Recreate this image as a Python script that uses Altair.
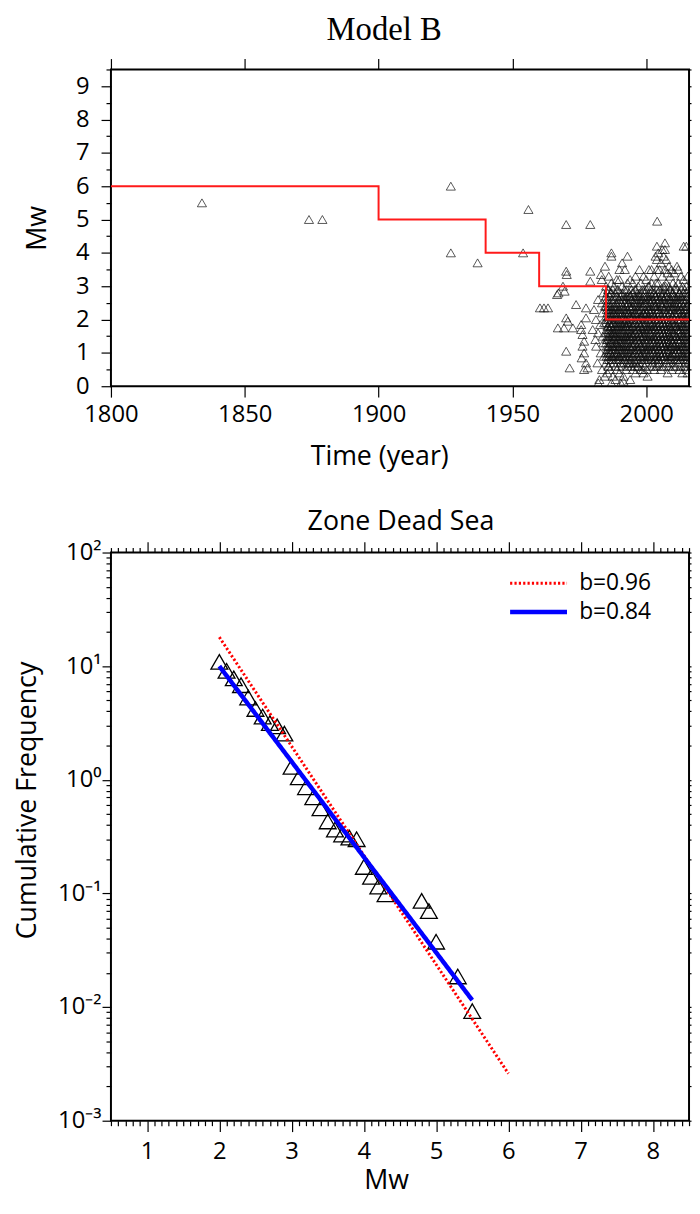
import altair as alt
import pandas as pd

# ---------------- Top panel: Model B (time vs magnitude) ----------------
hist_year = [1834, 1874, 1879, 1927, 1927, 1937, 1954, 1956, 1960.3, 1961.8, 1963.3, 1970.1, 1979.1, 2004.1]
hist_mw = [5.5, 5.0, 5.0, 6.0, 4.0, 3.7, 4.0, 5.3, 2.35, 2.35, 2.35, 4.85, 4.85, 4.95]

early_year = [1966.7, 1967.2, 1969.5, 1968.9, 1970.1, 1970.3, 1979.1, 1979.1, 1983.1, 1983.4, 1984.6,
              1973.8, 1977.5, 1970.1, 1970.7, 1967.0, 1969.3, 1972.6, 1977.5, 1975.7, 1981.2, 1975.7,
              1976.2, 1976.8, 1976.2, 1976.8, 1975.9, 1977.5, 1976.8, 1970.1, 1971.4, 1978.1, 1981.8,
              1982.5, 1981.0, 1981.3, 1983.0, 1980.0, 1982.0, 1983.5, 1983.6, 1984.0, 1982.0, 1980.5,
              1984.0, 1984.2, 1983.5, 1984.5, 1984.3, 1984.6, 1982.8, 1983.8, 1982.1, 1987.0, 1991.5]
early_mw = [2.75, 2.8, 2.85, 3.0, 3.45, 3.35, 3.45, 3.15, 3.35, 3.2, 3.6,
            2.45, 2.35, 2.05, 1.95, 1.75, 1.75, 1.75, 2.05, 1.85, 2.0, 1.7,
            1.55, 1.35, 1.2, 1.0, 0.85, 0.7, 0.5, 1.05, 0.55, 0.55, 0.7,
            0.2, 1.4, 1.2, 1.0, 1.7, 1.6, 2.5, 2.2, 2.8, 2.6, 2.3,
            1.3, 0.9, 0.5, 0.3, 1.9, 2.4, 1.85, 1.5, 0.1, 0.1, 0.15]

cloud_rows = {
    1985.0: "3.0 2.7 2.4 2.1 1.9 1.6 1.3 1.0 0.7",
    1985.5: "2.8 2.5 2.2 1.8 1.5 1.4 1.1 0.8 0.4",
    1986.0: "3.3 2.9 2.6 2.3 2.0 1.7 1.5 1.2 0.9 0.6",
    1986.5: "2.7 2.4 2.1 1.9 1.6 1.3 1.0 0.5",
    1987.0: "4.0 3.9 3.1 2.8 2.2 1.8 1.4 1.1 0.8",
    1987.5: "2.9 2.5 2.3 2.0 1.7 1.5 1.2 0.9 0.3",
    1988.0: "3.0 2.6 2.2 1.9 1.6 1.4 1.0 0.7",
    1988.5: "2.8 2.4 2.1 1.8 1.5 1.3 1.1 0.6 0.2",
    1989.0: "3.2 2.7 2.3 2.0 1.7 1.2 0.9 0.5",
    1989.5: "2.9 2.5 2.2 1.9 1.6 1.4 1.1 0.8",
    1990.0: "3.5 3.2 2.6 2.3 2.0 1.8 1.5 1.2 0.9 0.4",
    1990.5: "2.8 2.4 2.1 1.7 1.4 1.0 0.7 0.1",
    1991.0: "3.7 3.0 2.6 2.2 1.9 1.6 1.3 1.1 0.6",
    1991.5: "2.7 2.3 2.0 1.8 1.5 1.2 0.9 0.3",
    1992.0: "3.5 2.9 2.5 2.2 1.9 1.7 1.4 1.0 0.8",
    1992.5: "2.6 2.4 2.0 1.8 1.5 1.3 1.1 0.5",
    1993.0: "3.9 3.1 2.7 2.3 2.1 1.8 1.5 1.2 0.9 0.6",
    1993.5: "2.8 2.5 2.2 1.9 1.6 1.4 1.0 0.7",
    1994.0: "3.2 2.7 2.4 2.1 1.7 1.5 1.2 0.8 0.2",
    1994.5: "2.9 2.6 2.2 2.0 1.6 1.3 1.1 0.6",
    1995.0: "3.1 2.8 2.4 2.1 1.8 1.5 1.2 0.9 0.5",
    1995.5: "2.7 2.3 2.0 1.7 1.4 1.1 0.8",
    1996.0: "3.3 2.9 2.5 2.2 1.9 1.6 1.3 1.0 0.7 0.4",
    1996.5: "2.6 2.3 2.1 1.8 1.5 1.2 0.9",
    1997.0: "3.0 2.7 2.4 2.0 1.7 1.4 1.1 0.8 0.6",
    1997.5: "3.5 2.8 2.5 2.2 1.9 1.6 1.3 1.0",
    1998.0: "3.1 2.6 2.3 2.0 1.8 1.5 1.2 0.9 0.5",
    1998.5: "2.9 2.4 2.1 1.9 1.6 1.3 1.0 0.7",
    1999.0: "3.3 2.7 2.4 2.2 1.8 1.5 1.1 0.8 0.4",
    1999.5: "2.8 2.5 2.0 1.7 1.4 1.2 0.9 0.6",
    2000.0: "3.2 2.9 2.6 2.2 1.9 1.6 1.3 1.0 0.7",
    2000.5: "2.7 2.4 2.1 1.8 1.5 1.2 0.9 0.3",
    2001.0: "3.5 3.0 2.6 2.3 2.0 1.7 1.4 1.1 0.8",
    2001.5: "2.8 2.5 2.2 1.9 1.6 1.3 1.0 0.6",
    2002.0: "3.5 3.1 2.7 2.4 2.1 1.8 1.5 1.2 0.9",
    2002.5: "2.9 2.6 2.2 1.9 1.7 1.4 1.1 0.7",
    2003.0: "3.3 2.8 2.5 2.1 1.8 1.5 1.2 0.9 0.5",
    2003.5: "3.9 2.7 2.4 2.0 1.7 1.4 1.1 0.8",
    2004.0: "4.2 3.8 3.5 2.9 2.5 2.2 1.9 1.6 1.3 1.0 0.6",
    2004.5: "4.0 3.1 2.7 2.3 2.0 1.7 1.4 1.1 0.8",
    2005.0: "3.5 2.9 2.6 2.2 1.9 1.6 1.3 1.0 0.7",
    2005.5: "3.7 2.8 2.5 2.1 1.8 1.5 1.2 0.9 0.5",
    2006.0: "4.1 3.3 2.7 2.4 2.0 1.7 1.4 1.1 0.8",
    2006.5: "3.9 3.0 2.6 2.3 1.9 1.6 1.3 1.0 0.6",
    2007.0: "4.3 4.1 3.5 2.9 2.5 2.2 1.8 1.5 1.2 0.9",
    2007.5: "3.8 3.1 2.7 2.4 2.0 1.7 1.4 1.1 0.7",
    2008.0: "3.4 2.8 2.5 2.1 1.8 1.5 1.2 0.9 0.4",
    2008.5: "3.6 3.0 2.6 2.3 1.9 1.6 1.3 1.0 0.6",
    2009.0: "3.3 2.9 2.4 2.2 1.8 1.5 1.1 0.8",
    2009.5: "3.5 2.7 2.5 2.0 1.7 1.4 1.2 0.9 0.5",
    2010.0: "3.1 2.8 2.3 2.1 1.8 1.5 1.3 1.0 0.7",
    2010.5: "3.4 2.6 2.4 2.0 1.6 1.4 1.1 0.8",
    2011.0: "3.0 2.7 2.3 1.9 1.7 1.3 1.0 0.6",
    2011.5: "3.6 2.9 2.5 2.2 1.8 1.5 1.2 0.9",
    2012.0: "3.5 3.1 2.6 2.3 2.0 1.7 1.4 1.1 0.7",
    2012.5: "2.8 2.4 2.1 1.8 1.5 1.2 0.9 0.5",
    2013.0: "3.3 2.7 2.3 2.0 1.7 1.4 1.1 0.8",
    2013.5: "3.0 2.6 2.2 1.9 1.6 1.3 1.0 0.4",
    2014.0: "4.2 3.2 2.8 2.4 2.1 1.8 1.5 1.2 0.9 0.6",
    2014.5: "2.9 2.5 2.2 1.9 1.6 1.3 1.0 0.7",
    2015.0: "4.2 3.0 2.6 2.3 2.0 1.7 1.4 1.1 0.8 0.5",
    2015.5: "3.3 2.7 2.4 2.1 1.8 1.5 1.2 0.9 0.4",
}

cloud_rows_b = {
    1985.25: "2.6 2.3 2.0 1.7 1.4 1.2 0.9",
    1985.75: "2.9 2.4 2.1 1.8 1.6 1.2 1.0 0.6",
    1986.25: "2.5 2.2 1.9 1.7 1.4 1.1 0.8",
    1986.75: "2.8 2.3 2.0 1.8 1.5 1.3 1.0 0.7",
    1987.25: "2.6 2.1 1.9 1.6 1.3 1.2 0.9",
    1987.75: "2.4 2.2 1.9 1.6 1.4 1.1 0.8",
    1988.25: "2.7 2.3 2.0 1.7 1.5 1.2 0.9",
    1988.75: "2.5 2.2 1.9 1.6 1.3 1.0 0.8",
    1989.25: "2.9 2.4 2.1 1.8 1.5 1.3 1.0",
    1989.75: "2.6 2.3 2.0 1.7 1.4 1.2 0.9 0.6",
    1990.25: "2.7 2.2 1.9 1.6 1.3 1.1 0.8",
    1990.75: "2.5 2.3 2.0 1.8 1.5 1.2 0.9",
    1991.25: "2.8 2.4 2.1 1.7 1.4 1.0 0.7",
    1991.75: "2.6 2.1 1.9 1.6 1.3 1.1 0.8",
    1992.25: "2.7 2.3 2.0 1.8 1.5 1.2 0.9",
    1992.75: "2.9 2.5 2.2 1.9 1.6 1.4 1.0 0.7",
    1993.25: "2.5 2.2 1.9 1.7 1.3 1.1 0.8",
    1993.75: "2.7 2.4 2.1 1.8 1.5 1.2 0.9",
    1994.25: "2.6 2.3 1.9 1.6 1.4 1.0 0.7",
    1994.75: "2.8 2.4 2.1 1.8 1.5 1.2 0.9",
    1995.25: "2.5 2.2 1.9 1.6 1.3 1.0 0.7",
    1995.75: "2.9 2.6 2.2 1.9 1.6 1.3 1.0 0.6",
    1996.25: "2.7 2.4 2.0 1.7 1.4 1.1 0.8",
    1996.75: "2.8 2.5 2.2 2.0 1.7 1.4 1.1 0.6",
    1997.25: "2.6 2.3 1.9 1.6 1.3 1.0 0.7",
    1997.75: "2.7 2.4 2.1 1.8 1.5 1.2 0.9",
    1998.25: "2.8 2.5 2.1 1.7 1.4 1.1 0.8",
    1998.75: "2.6 2.2 2.0 1.7 1.5 1.2 0.9 0.5",
    1999.25: "2.9 2.5 2.2 1.9 1.6 1.3 1.0",
    1999.75: "2.7 2.3 2.1 1.8 1.5 1.1 0.8",
    2000.25: "2.5 2.2 2.0 1.7 1.4 1.1 0.8 0.5",
    2000.75: "3.0 2.6 2.3 2.0 1.7 1.4 1.1",
    2001.25: "2.7 2.4 2.1 1.8 1.5 1.2 0.9",
    2001.75: "2.9 2.6 2.3 2.0 1.7 1.4 1.1 0.8",
    2002.25: "2.6 2.3 2.0 1.7 1.4 1.1 0.8",
    2002.75: "2.8 2.4 2.1 1.8 1.5 1.3 1.0 0.6",
    2003.25: "2.7 2.4 2.0 1.7 1.4 1.1 0.8",
    2003.75: "3.1 2.6 2.3 2.0 1.8 1.5 1.2 0.9",
    2004.25: "2.8 2.4 2.1 1.8 1.5 1.2 0.9 0.7",
    2004.75: "2.6 2.3 2.0 1.7 1.4 1.1 0.8",
    2005.25: "2.9 2.5 2.2 1.9 1.6 1.3 1.0",
    2005.75: "2.7 2.4 2.0 1.7 1.4 1.2 0.9 0.6",
    2006.25: "2.8 2.5 2.2 1.9 1.6 1.3 1.0",
    2006.75: "2.6 2.3 2.1 1.8 1.5 1.2 0.9",
    2007.25: "3.0 2.7 2.3 2.0 1.7 1.4 1.1 0.8",
    2007.75: "2.8 2.5 2.2 1.9 1.6 1.3 1.0",
    2008.25: "2.7 2.3 2.0 1.7 1.4 1.1 0.8",
    2008.75: "2.9 2.5 2.2 1.8 1.5 1.2 0.9 0.7",
    2009.25: "2.6 2.3 2.0 1.7 1.4 1.2 0.9",
    2009.75: "2.8 2.4 2.1 1.9 1.6 1.3 1.0",
    2010.25: "2.7 2.5 2.2 1.9 1.6 1.2 0.9 0.6",
    2010.75: "2.9 2.5 2.2 1.8 1.5 1.2 1.0",
    2011.25: "2.6 2.4 2.1 1.8 1.5 1.1 0.8",
    2011.75: "2.7 2.3 2.0 1.7 1.4 1.1 0.8",
    2012.25: "2.8 2.5 2.2 1.9 1.6 1.3 1.0",
    2012.75: "2.6 2.3 2.0 1.7 1.4 1.1 0.8 0.6",
    2013.25: "2.9 2.5 2.1 1.8 1.5 1.2 0.9",
    2013.75: "2.7 2.4 2.1 1.8 1.5 1.2 0.9",
    2014.25: "2.6 2.3 2.0 1.7 1.4 1.1 0.8",
    2014.75: "2.8 2.4 2.1 1.8 1.5 1.2 0.9 0.6",
    2015.25: "2.7 2.4 2.1 1.9 1.6 1.3 1.0",
    2015.75: "2.9 2.5 2.2 1.9 1.6 1.3 1.0 0.7",
}

step_year = [1800, 1900, 1940, 1960, 1985, 2016]
step_mw = [6, 5, 4, 3, 2, 2]

year_ticks = [1800, 1850, 1900, 1950, 2000]
mw_ticks = [0, 0.5, 1, 1.5, 2, 2.5, 3, 3.5, 4, 4.5, 5, 5.5, 6, 6.5, 7, 7.5, 8, 8.5, 9, 9.5]

# ---------------- Bottom panel: Zone Dead Sea (Gutenberg-Richter) ----------------
cf_mw = [2.0, 2.1, 2.2, 2.3, 2.4, 2.5, 2.6, 2.7, 2.8, 2.9, 3.0, 3.1, 3.2, 3.3, 3.4,
         3.5, 3.6, 3.7, 3.8, 3.9, 4.0, 4.1, 4.2, 4.3, 4.8, 4.9, 5.0, 5.3, 5.5]
cf_val = [10.9, 9.1, 7.8, 6.8, 5.3, 4.2, 3.6, 3.15, 2.95, 2.55, 1.30, 1.05, 0.86, 0.70, 0.56,
          0.43, 0.365, 0.33, 0.31, 0.30, 0.171, 0.140, 0.115, 0.098, 0.086, 0.070, 0.0376, 0.0186, 0.0092]

fit_labels = ["b=0.96", "b=0.84"]
fit_red_mw = [2.0, 6.0]
fit_red_cf = [18.0, 0.0026]
fit_blue_mw = [2.0, 5.5]
fit_blue_cf = [10.0, 0.0115]

mag_ticks_major = [1, 2, 3, 4, 5, 6, 7, 8]
cf_tick_labels = ["10⁻³", "10⁻²", "10⁻¹", "10⁰", "10¹", "10²"]
cf_decades = [-3, -2, -1, 0, 1, 2]

# ---------------- tables ----------------
pts_year = list(hist_year) + list(early_year)
pts_mw = list(hist_mw) + list(early_mw)
for rows in (cloud_rows, cloud_rows_b):
    for yr, s in rows.items():
        for v in s.split():
            pts_year.append(yr)
            pts_mw.append(float(v))
df_pts = pd.DataFrame({"year": pts_year, "mw": pts_mw})
df_step = pd.DataFrame({"year": step_year, "mw": step_mw})

df_cf = pd.DataFrame({"mw": cf_mw, "cf": cf_val})
df_fit = pd.DataFrame({
    "fit": [fit_labels[0]] * 2 + [fit_labels[1]] * 2,
    "mw": fit_red_mw + fit_blue_mw,
    "cf": fit_red_cf + fit_blue_cf,
})

mag_minor = [round(0.5 + 0.1 * i, 1) for i in range(81)]
cf_ticks = []
for d in cf_decades[:-1]:
    for k in range(1, 10):
        cf_ticks.append(float(f"{k}e{d}"))
cf_ticks.append(float(f"1e{cf_decades[-1]}"))

cf_label_expr = ""
for d, lab in zip(cf_decades, cf_tick_labels):
    cf_label_expr += f"abs(log(datum.value)/LN10 - ({d})) < 0.001 ? '{lab}' : "
cf_label_expr += "''"

FONT = "Open Sans"
W = 584
H_TOP = 320
H_BOT = 574

int_test = "abs(datum.value - round(datum.value)) < 0.001"
log_test = "abs(log(datum.value)/LN10 - round(log(datum.value)/LN10)) < 0.001"

# ---------------- top chart ----------------
x_top = alt.Scale(domain=[1800, 2016], nice=False, zero=False)
y_top = alt.Scale(domain=[0, 9.5], nice=False, zero=False)

pts = alt.Chart(df_pts).mark_point(
    shape="triangle-up", size=85, filled=False, color="#111111", strokeWidth=0.7, clip=True, opacity=1
).encode(
    x=alt.X("year:Q", scale=x_top, axis=alt.Axis(
        orient="bottom", values=year_ticks, format="d", tickSize=11, labelPadding=6,
        labelFlush=False, labelOverlap=False, title="Time (year)",
        titleX=271, titleY=71, titleBaseline="middle")),
    y=alt.Y("mw:Q", scale=y_top, axis=alt.Axis(
        orient="left", values=mw_ticks, labelOverlap=False, labelFlush=False,
        labelExpr=f"{int_test} ? format(datum.value, 'd') : ''",
        tickSize={"condition": {"test": int_test, "value": 10}, "value": 5},
        labelPadding=12, title="Mw", titleX=-74, titleY=160, titleBaseline="middle",
        titleAngle=270)),
)

step = alt.Chart(df_step).mark_line(
    color="#ff1a1a", strokeWidth=2, interpolate="step-after", clip=True
).encode(
    x=alt.X("year:Q", scale=x_top, axis=alt.Axis(
        orient="top", values=year_ticks, labels=False, tickSize=11, title=None)),
    y=alt.Y("mw:Q", scale=y_top, axis=alt.Axis(
        orient="right", values=mw_ticks, labels=False, title=None, tickSize=2)),
)

top = alt.layer(pts, step).resolve_axis(x="independent", y="independent").properties(
    width=W, height=H_TOP,
    title=alt.TitleParams("Model B", font="Liberation Serif", fontSize=33, fontWeight="normal",
                          anchor="middle", dx=-16, offset=11, color="black"),
)

# ---------------- bottom chart ----------------
x_bot = alt.Scale(domain=[0.5, 8.5], nice=False, zero=False)
y_bot = alt.Scale(type="log", domain=[0.001, 100], nice=False)

tri = alt.Chart(df_cf).mark_point(
    shape="triangle-up", size=289, filled=False, color="black", strokeWidth=1.3, opacity=1
).encode(
    x=alt.X("mw:Q", scale=x_bot, axis=alt.Axis(
        orient="bottom", values=mag_minor, labelOverlap=False, labelFlush=False,
        labelExpr=f"{int_test} ? format(datum.value, 'd') : ''",
        tickSize={"condition": {"test": int_test, "value": 11}, "value": 5},
        labelPadding=8, title="Mw", titleX=278, titleY=60, titleBaseline="middle")),
    y=alt.Y("cf:Q", scale=y_bot, axis=alt.Axis(
        orient="left", values=cf_ticks, labelOverlap=False, labelFlush=False,
        labelExpr=cf_label_expr,
        tickSize={"condition": {"test": log_test, "value": 9}, "value": 5},
        labelPadding=1, title="Cumulative Frequency", titleX=-84, titleY=250,
        titleBaseline="middle", titleAngle=270)),
)

fits = alt.Chart(df_fit).mark_line(clip=True, strokeCap="butt").encode(
    x=alt.X("mw:Q", scale=x_bot, axis=alt.Axis(
        orient="top", values=mag_minor, labels=False, title=None,
        tickSize={"condition": {"test": int_test, "value": 11}, "value": 5})),
    y=alt.Y("cf:Q", scale=y_bot, axis=alt.Axis(
        orient="right", values=cf_ticks, labels=False, title=None, tickSize=2)),
    color=alt.Color("fit:N", scale=alt.Scale(domain=fit_labels, range=["#ff0000", "#0000ff"]),
                    legend=alt.Legend(orient="none", legendX=418, legendY=18, title=None,
                                      symbolType="M-2.5,0L2.5,0", symbolSize=529, labelFontSize=23,
                                      labelFont=FONT, labelColor="black", labelOffset=27,
                                      rowPadding=3, padding=0)),
    strokeDash=alt.StrokeDash("fit:N", scale=alt.Scale(domain=fit_labels, range=[[2.2, 2.2], [1, 0]])),
    strokeWidth=alt.StrokeWidth("fit:N", scale=alt.Scale(domain=fit_labels, range=[3, 4.5])),
    detail="fit:N",
)

bottom = alt.layer(tri, fits).resolve_axis(x="independent", y="independent").properties(
    width=W, height=H_BOT,
    title=alt.TitleParams("Zone Dead Sea", font=FONT, fontSize=27, fontWeight="normal",
                          anchor="middle", dx=1, offset=5, color="black"),
)

chart = alt.vconcat(top, bottom, spacing=37).resolve_legend(
    color="independent", strokeDash="independent", strokeWidth="independent"
).properties(
    padding={"left": 5, "top": -1, "right": -1, "bottom": 0}
).configure(
    font=FONT
).configure_view(
    stroke="black", strokeWidth=2
).configure_axis(
    grid=False, domain=False, tickColor="black", tickWidth=1.2,
    labelFont=FONT, labelFontSize=24, labelColor="black",
    titleFont=FONT, titleFontSize=27, titleFontWeight="normal", titleColor="black",
)

chart.save("out.html", embed_options={"renderer": "svg", "actions": False})
